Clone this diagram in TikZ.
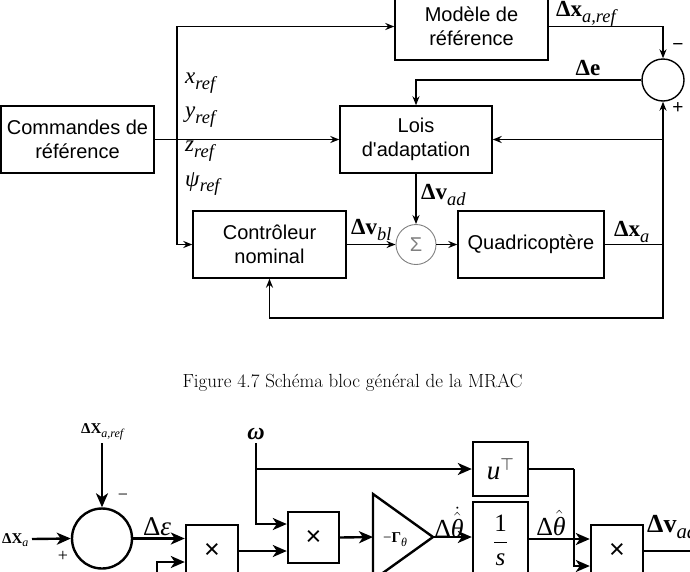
\documentclass[tikz,border=0pt]{standalone}
\usepackage{fontspec}
\newfontfamily\tms{Liberation Serif}
\newfontfamily\hel{Liberation Sans}
\usetikzlibrary{arrows.meta}
\newcommand\sbs[1]{\raisebox{-0.25em}{\scalebox{0.8}{#1}}}
\tikzset{
 blk/.style={draw, line width=1.4pt, inner sep=0pt, align=center, font=\hel\fontsize{20}{24}\selectfont},
 arr/.style={-{Stealth[length=9pt,width=7pt]}, line width=1.4pt},
 ln/.style={line width=1.4pt},
 lab/.style={inner sep=0pt, font=\tms\fontsize{23}{26}\selectfont},
 sgn/.style={inner sep=0pt, font=\hel\fontsize{19}{21}\selectfont},
 bblk/.style={draw, line width=2.4pt, inner sep=0pt, align=center},
 barr/.style={-{Stealth[length=14pt,width=12pt,inset=4pt]}, line width=2.4pt},
 bln/.style={line width=2.4pt},
 blab/.style={inner sep=0pt, font=\tms\fontsize{26}{28}\selectfont},
 slab/.style={inner sep=0pt, font=\tms\fontsize{15}{17}\selectfont},
 mulsign/.style={font=\hel\fontsize{27}{29}\selectfont},
}
\begin{document}
\begin{tikzpicture}[x={(1pt,0pt)}, y={(0pt,-1pt)}]
\useasboundingbox (0,0) rectangle (690,571);
\clip (0,0) rectangle (690,571);
\fill[white] (0,0) rectangle (690,571);

% ---------- top diagram ----------
\node[blk, minimum width=153pt, minimum height=67pt] (cmd) at (77.5,139.5) {Commandes de\\référence};
\node[blk, minimum width=153pt, minimum height=67pt] (modele) at (471.5,26.5) {Modèle de\\référence};
\node[blk, minimum width=152pt, minimum height=67pt] (lois) at (416,139.5) {Lois\\d'adaptation};
\node[blk, minimum width=153pt, minimum height=67pt] (ctrl) at (269.5,244.5) {Contrôleur\\nominal};
\node[blk, minimum width=146pt, minimum height=67pt] (quad) at (531,244.5) {Quadricoptère};
\node[draw, circle, line width=1.4pt, minimum size=42pt, inner sep=0pt] (sumA) at (663,80) {};
\node[draw=gray, circle, line width=0.9pt, minimum size=40pt, inner sep=0pt, text=gray, font=\hel\fontsize{20}{22}\selectfont] (sig) at (416,244.5) {Σ};

\coordinate (br) at (177,139.5);
\coordinate (fb) at (663,244.5);
\coordinate (fl) at (663,139.5);
\coordinate (bot) at (663,318);

\draw[arr] (cmd.east) -- (lois.west);
\draw[arr] (br) |- (modele.west);
\draw[arr] (br) |- (ctrl.west);
\draw[arr] (modele.east) -| (sumA.north);
\draw[arr] (sumA.west) -| (lois.north);
\draw[arr] (lois.south) -- (sig.north);
\draw[arr] (ctrl.east) -- (sig.west);
\draw[arr] (sig.east) -- (quad.west);
\draw[ln] (quad.east) -- (fb);
\draw[arr] (fb) -- (sumA.south);
\draw[arr] (fl) -- (lois.east);
\draw[arr] (fb) -- (bot) -| (ctrl.south);

\node[lab, anchor=west] (lx) at (185,83) {\textit{x}\sbs{\textit{ref}}};
\node[lab, anchor=west] (ly) at (185,117) {\textit{y}\sbs{\textit{ref}}};
\node[lab, anchor=west] (lz) at (185,151) {\textit{z}\sbs{\textit{ref}}};
\node[lab, anchor=west] (lpsi) at (185,184) {\textit{ψ}\sbs{\textit{ref}}};

\node[lab, anchor=west] (lxref) at (556,14) {\textbf{Δx}\sbs{\textit{a,ref}}};
\node[lab] (le) at (588,68) {\textbf{Δe}};
\node[lab, anchor=west] (lvad) at (421,195) {\textbf{Δv}\sbs{\textit{ad}}};
\node[lab, anchor=west] (lvbl) at (351,230) {\textbf{Δv}\sbs{\textit{bl}}};
\node[lab, anchor=west] (lxa) at (614,232) {\textbf{Δx}\sbs{\textit{a}}};
\node[sgn] (mA) at (678,47) {−};
\node[sgn] (pA) at (678,108) {+};

% ---------- caption ----------
\node[anchor=base, inner sep=0pt, font=\fontsize{19}{22}\selectfont] (cap) at (352.5,387) {Figure 4.7 Schéma bloc général de la MRAC};

% ---------- bottom diagram ----------
\node[draw, circle, line width=2.4pt, minimum size=60pt, inner sep=0pt] (sumB) at (102,538.5) {};
\node[bblk, minimum width=52pt, minimum height=52pt, mulsign] (mul1) at (212,551) {×};
\node[bblk, minimum width=51pt, minimum height=51pt, mulsign] (mul2) at (313.5,537.5) {×};
\node[bblk, minimum width=55pt, minimum height=54pt] (ut) at (500.5,469) {\tms\fontsize{27}{29}\selectfont\textit{u}$^{\top}$};
\node[bblk, minimum width=55pt, minimum height=76pt] (integ) at (500.5,540) {\tms\fontsize{25}{27}\selectfont$\displaystyle\frac{\mbox{1}}{\mbox{\itshape s}}$};
\node[bblk, minimum width=52pt, minimum height=52pt, mulsign] (mul3) at (617,551) {×};
\draw[bln, line join=miter] (373,494) -- (433,537) -- (373,580) -- cycle;
\coordinate (gL) at (373,537);
\coordinate (gR) at (433,537);
\node[slab] (gam) at (395,540) {−\textbf{Γ}\sbs{\textit{θ}}};

\coordinate (xrefB) at (102,443);
\coordinate (xaB) at (32,539);
\coordinate (inB) at (157,590);
\coordinate (om) at (256,443);
\coordinate (omb) at (256,469);
\coordinate (utc) at (574,469);
\coordinate (outB) at (720,551);

\draw[barr] (xrefB) -- (sumB.north);
\draw[barr] (xaB) -- (sumB.west);
\draw[barr] (sumB.east) -- (sumB.east -| mul1.west);
\draw[barr] (inB) |- (mul1.west |- 0,562);
\draw[barr] (mul1.east) -- (mul1.east -| mul2.west);
\draw[barr] (om) |- (mul2.west |- 0,524);
\draw[barr] (omb) -- (ut.west);
\draw[barr] (mul2.east) -- (gL);
\draw[barr] (gR) -- (integ.west |- gR);
\draw[barr] (integ.east |- 0,539) -- (mul3.west |- 0,539);
\draw[bln] (ut.east) -- (utc);
\draw[barr] (utc) |- (mul3.west |- 0,566);
\draw[barr] (mul3.east) -- (outB);

\node[slab, anchor=west] (lxrefB) at (81,432) {\textbf{ΔX}\sbs{\textit{a,ref}}};
\node[slab, anchor=west] (lxaB) at (2,540) {\textbf{ΔX}\sbs{\textit{a}}};
\node[slab, font=\tms\fontsize{18}{20}\selectfont] (mB) at (123,497) {−};
\node[slab, font=\tms\fontsize{18}{20}\selectfont] (pB) at (63,556) {+};
\node[blab, font=\tms\fontsize{27}{29}\selectfont] (leps) at (157,527) {Δ\textit{ε}};
\node[blab, font=\tms\fontsize{24}{26}\selectfont] (lom) at (256,434) {\textbf{\textit{ω}}};
\node[blab] (lthd) at (449,522) {Δ$\dot{\hat{\mbox{\itshape θ}}}$};
\node[blab] (lth) at (551,523) {Δ$\hat{\mbox{\itshape θ}}$};
\node[blab, anchor=west] (lvadB) at (647,527) {\textbf{Δv}\sbs{\textit{ad}}};
\end{tikzpicture}
\end{document}
